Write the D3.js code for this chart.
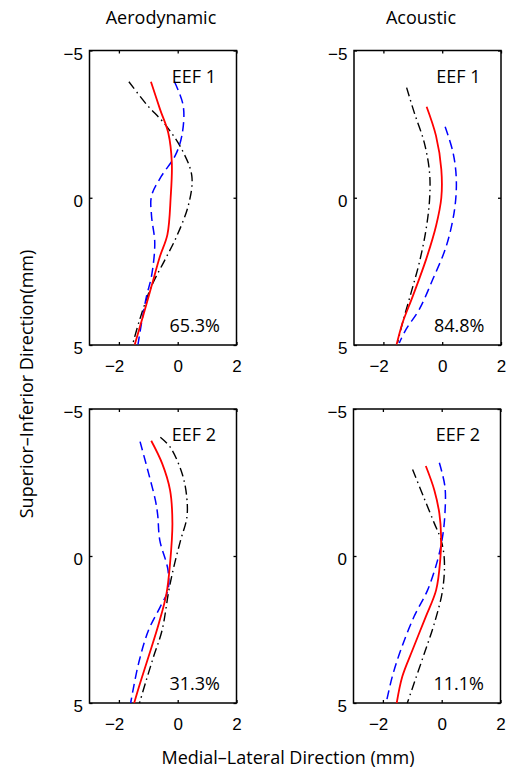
<!DOCTYPE html>
<html>
<head>
<meta charset="utf-8">
<script src="https://cdn.jsdelivr.net/npm/d3@7"></script>
<style>
  body { margin: 0; background: #fff; }
  svg { display: block; font-family: "Open Sans", sans-serif; }
  .tick text { font-size: 17px; }
</style>
</head>
<body>
<svg id="chart" width="510" height="769"></svg>
<script>
// tick labels
const xTicks = [-2, 0, 2];
const yTicks = [-5, 0, 5];
const columnTitles = ["Aerodynamic", "Acoustic"];
const panelLabels = ["EEF 1", "EEF 1", "EEF 2", "EEF 2"];
const percentLabels = ["65.3%", "84.8%", "31.3%", "11.1%"];

// each series is [medial-lateral, superior-inferior] points
const aero1Red = [[-0.91, -3.94], [-0.6, -3.0], [-0.32, -2.2], [-0.2, -1.19], [-0.24, 0], [-0.35, 1.25], [-0.6, 1.98], [-0.89, 3.0], [-1.18, 4.02], [-1.46, 4.98]];
const aero1Blue = [[-0.11, -3.94], [0.19, -3.11], [0.14, -2.1], [-0.09, -1.42], [-0.55, -0.74], [-0.89, -0.06], [-0.89, 0.62], [-0.78, 1.53], [-0.89, 2.66], [-1.06, 3.34], [-1.23, 4.25], [-1.35, 4.98]];
const aero1Black = [[-1.66, -3.94], [-1.06, -3.17], [-0.43, -2.49], [0.14, -1.64], [0.48, -0.74], [0.37, 0.23], [-0.03, 1.3], [-0.43, 2.1], [-0.89, 3.0], [-1.29, 4.13], [-1.52, 4.93]];

const acou1Red = [[-0.53, -3.09], [-0.21, -2.1], [-0.03, -0.96], [-0.03, 0], [-0.21, 0.96], [-0.55, 2.1], [-1.0, 3.34], [-1.35, 4.25], [-1.55, 4.98]];
const acou1Blue = [[0.1, -2.41], [0.37, -1.53], [0.48, -0.62], [0.42, 0.4], [0.14, 1.64], [-0.32, 2.77], [-0.78, 3.79], [-1.23, 4.47], [-1.46, 4.93]];
const acou1Black = [[-1.21, -3.74], [-0.95, -2.89], [-0.61, -1.87], [-0.43, -0.85], [-0.43, 0.06], [-0.55, 1.08], [-0.78, 2.21], [-1.06, 3.23], [-1.35, 4.25], [-1.52, 4.93]];

const aero2Red = [[-0.9, -3.92], [-0.53, -3.15], [-0.26, -2.24], [-0.18, -1.11], [-0.26, 0.25], [-0.38, 1.27], [-0.64, 2.29], [-0.99, 3.42], [-1.28, 4.33], [-1.48, 5.0]];
const aero2Blue = [[-1.28, -3.89], [-0.99, -2.81], [-0.76, -1.9], [-0.68, -1.39], [-0.61, -0.54], [-0.33, 0.48], [-0.33, 1.16], [-0.59, 1.72], [-0.99, 2.52], [-1.33, 3.65], [-1.6, 5.0]];
const aero2Black = [[-0.59, -4.04], [-0.24, -3.68], [0.16, -2.77], [0.31, -1.98], [0.31, -1.3], [0.1, -0.54], [-0.13, 0.36], [-0.3, 1.16], [-0.53, 2.52], [-0.82, 3.42], [-1.1, 4.33], [-1.3, 5.0]];

const acou2Red = [[-0.54, -3.06], [-0.25, -2.24], [-0.08, -1.45], [-0.02, -0.66], [-0.05, 0.14], [-0.19, 1.16], [-0.54, 2.06], [-0.99, 3.19], [-1.34, 4.1], [-1.53, 5.0]];
const acou2Blue = [[-0.08, -3.17], [0.11, -2.36], [0.11, -1.45], [0.03, -0.66], [-0.14, 0.14], [-0.48, 1.16], [-0.94, 2.06], [-1.39, 3.19], [-1.68, 4.1], [-1.89, 5.0]];
const acou2Black = [[-0.99, -2.94], [-0.62, -2.02], [-0.25, -1.11], [-0.02, -0.54], [0.09, 0.14], [0.03, 1.16], [-0.25, 2.29], [-0.59, 3.31], [-0.94, 4.33], [-1.17, 5.0]];

const panelSeries = [
  [aero1Black, aero1Blue, aero1Red],
  [acou1Black, acou1Blue, acou1Red],
  [aero2Black, aero2Blue, aero2Red],
  [acou2Black, acou2Blue, acou2Red]
];

const styles = [
  { color: "#000", width: 1.4, dash: "9,4,1.5,4" },
  { color: "#0000ff", width: 1.5, dash: "9,5" },
  { color: "#ff0000", width: 1.8, dash: null }
];

const panels = [
  { left: 89.5, top: 50.5, width: 147, height: 294.5 },
  { left: 354, top: 50.5, width: 147, height: 294.5 },
  { left: 89.5, top: 409, width: 147, height: 294 },
  { left: 353.5, top: 409, width: 147, height: 294 }
];

const svg = d3.select("#chart");
const minus = s => String(s).replace("-", "\u2212");

panels.forEach((p, i) => {
  const x = d3.scaleLinear().domain([-3, 2]).range([0, p.width]);
  const y = d3.scaleLinear().domain([-5, 5]).range([0, p.height]);

  const g = svg.append("g").attr("transform", "translate(" + p.left + "," + p.top + ")");

  g.append("rect")
    .attr("width", p.width)
    .attr("height", p.height)
    .attr("fill", "none")
    .attr("stroke", "#000")
    .attr("stroke-width", 1.5);

  const tickLen = 3;
  g.append("g")
    .attr("transform", "translate(0," + p.height + ")")
    .call(d3.axisBottom(x).tickValues(xTicks).tickSize(-tickLen).tickPadding(15).tickFormat(minus))
    .call(a => a.select(".domain").remove())
    .call(a => a.selectAll(".tick text").filter(d => d < 0).attr("dx", "-0.28em"));
  g.append("g")
    .call(d3.axisTop(x).tickValues(xTicks).tickSize(-tickLen).tickFormat(""))
    .call(a => a.select(".domain").remove());
  g.append("g")
    .call(d3.axisLeft(y).tickValues(yTicks).tickSize(-tickLen).tickPadding(6.5).tickFormat(minus))
    .call(a => a.select(".domain").remove())
    .call(a => a.selectAll(".tick text").attr("dy", "0.5em"));
  g.append("g")
    .attr("transform", "translate(" + p.width + ",0)")
    .call(d3.axisRight(y).tickValues(yTicks).tickSize(-tickLen).tickFormat(""))
    .call(a => a.select(".domain").remove());

  g.selectAll(".tick line").attr("stroke-width", 1.3);
  g.selectAll(".tick text").attr("fill", "#000");

  const line = d3.line()
    .x(d => x(d[0]))
    .y(d => y(d[1]))
    .curve(d3.curveCatmullRom.alpha(0.5));

  panelSeries[i].forEach((s, k) => {
    g.append("path")
      .datum(s)
      .attr("d", line)
      .attr("fill", "none")
      .attr("stroke", styles[k].color)
      .attr("stroke-width", styles[k].width)
      .attr("stroke-dasharray", styles[k].dash);
  });

  g.append("text")
    .attr("x", x(-0.2))
    .attr("y", y(-3.9))
    .attr("font-size", 18)
    .text(panelLabels[i]);

  g.append("text")
    .attr("x", x(-0.28))
    .attr("y", y(4.55))
    .attr("font-size", 18)
    .text(percentLabels[i]);
});

const titleCenters = [161, 421];
columnTitles.forEach((t, i) => {
  svg.append("text")
    .attr("x", titleCenters[i])
    .attr("y", 24)
    .attr("text-anchor", "middle")
    .attr("font-size", 18)
    .text(t);
});

svg.append("text")
  .attr("transform", "translate(33,384) rotate(-90)")
  .attr("text-anchor", "middle")
  .attr("font-size", 18)
  .text("Superior\u2013Inferior Direction(mm)");

svg.append("text")
  .attr("x", 288)
  .attr("y", 764)
  .attr("text-anchor", "middle")
  .attr("font-size", 18)
  .text("Medial\u2013Lateral Direction (mm)");
</script>
</body>
</html>
